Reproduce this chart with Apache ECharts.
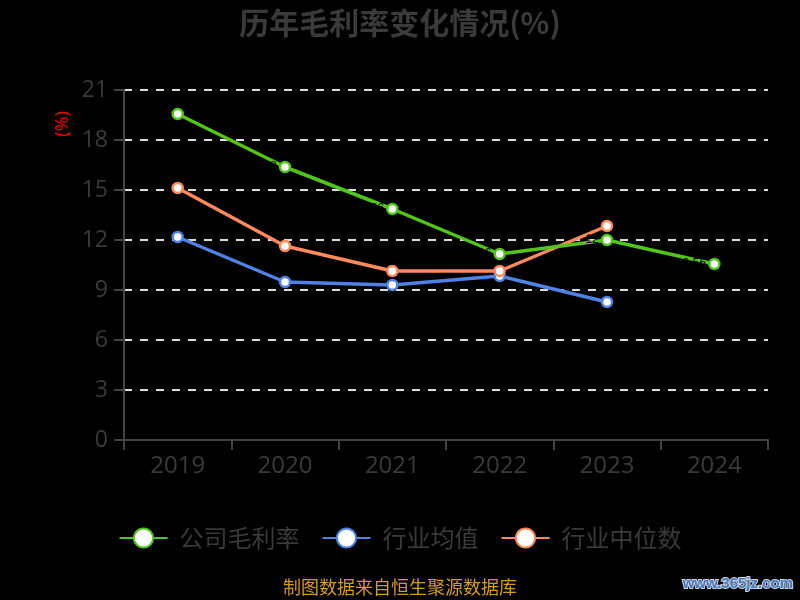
<!DOCTYPE html>
<html>
<head>
<meta charset="utf-8">
<script src="https://cdn.jsdelivr.net/npm/echarts@6/dist/echarts.min.js"></script>
<style>
    html, body {margin: 0; padding: 0; background: #000;}
    #chart {width: 800px; height: 600px;}
</style>
</head>
<body>
<div id="chart"></div>
<script>
var years = ['2019', '2020', '2021', '2022', '2023', '2024'];
var companyMargin = [19.56, 16.38, 13.86, 11.16, 12.0, 10.56];
var industryAvg = [12.18, 9.48, 9.3, 9.84, 8.28];
var industryMedian = [15.12, 11.64, 10.14, 10.14, 12.84];
var seriesNames = ['公司毛利率', '行业均值', '行业中位数'];

var textColor = '#3a3a3a';
var axisColor = '#444';

function buildSerie(name, values, color, withLabel) {
    return {
        name: name,
        type: 'line',
        data: values,
        symbol: 'circle',
        symbolSize: 10,
        lineStyle: {color: color, width: 3.5},
        itemStyle: {color: '#fff', borderColor: color, borderWidth: 2.5},
        label: {
            show: withLabel,
            position: 'left',
            distance: 2,
            color: '#000',
            fontSize: 12
        },
        z: withLabel ? 3 : 2
    };
}

var chart = echarts.init(document.getElementById('chart'));
chart.setOption({
    backgroundColor: '#000',
    animation: false,
    title: {
        text: '历年毛利率变化情况(%)',
        left: 'center',
        top: 3,
        textStyle: {color: textColor, fontSize: 30, fontWeight: 'bold', fontFamily: 'Noto Sans CJK SC'}
    },
    grid: {left: 124, right: 32, top: 90, bottom: 160},
    legend: {
        bottom: 45,
        left: 'center',
        itemWidth: 48,
        itemHeight: 24,
        itemGap: 22,
        textStyle: {color: textColor, fontSize: 24, padding: [0, 0, 0, 7], fontFamily: 'Noto Sans CJK SC'},
        data: seriesNames
    },
    xAxis: {
        type: 'category',
        data: years,
        boundaryGap: true,
        axisLine: {lineStyle: {color: axisColor, width: 2}},
        axisTick: {show: true, length: 10, lineStyle: {color: axisColor, width: 2}},
        axisLabel: {color: textColor, fontSize: 24, margin: 14, fontFamily: 'Open Sans'}
    },
    yAxis: {
        type: 'value',
        min: 0,
        max: 21,
        interval: 3,
        axisLine: {show: true, lineStyle: {color: axisColor, width: 2}},
        axisTick: {show: true, length: 10, lineStyle: {color: axisColor, width: 2}},
        axisLabel: {color: textColor, fontSize: 23, margin: 16, fontFamily: 'Open Sans'},
        splitLine: {lineStyle: {color: '#ddd', type: [8, 8], width: 2}}
    },
    graphic: [
        {
            type: 'text',
            left: 54,
            top: 111,
            rotation: Math.PI / 2,
            style: {text: '(%)', fill: '#e00', fontSize: 18, fontFamily: 'Noto Sans'}
        },
        {
            type: 'text',
            left: 'center',
            top: 578,
            style: {text: '制图数据来自恒生聚源数据库', fill: '#d49a22', fontSize: 18, fontFamily: 'Noto Sans CJK SC'}
        },
        {
            type: 'text',
            right: 6,
            top: 575,
            style: {
                text: 'www.365jz.com', fill: '#4a78b8', stroke: '#c8d4e4', lineWidth: 2,
                fontSize: 15, fontWeight: 'bold', fontFamily: 'Liberation Sans'
            }
        }
    ],
    series: [
        buildSerie(seriesNames[0], companyMargin, '#52c41a', true),
        buildSerie(seriesNames[1], industryAvg, '#4f82e3', false),
        buildSerie(seriesNames[2], industryMedian, '#ff8a5b', false)
    ]
});
</script>
</body>
</html>
